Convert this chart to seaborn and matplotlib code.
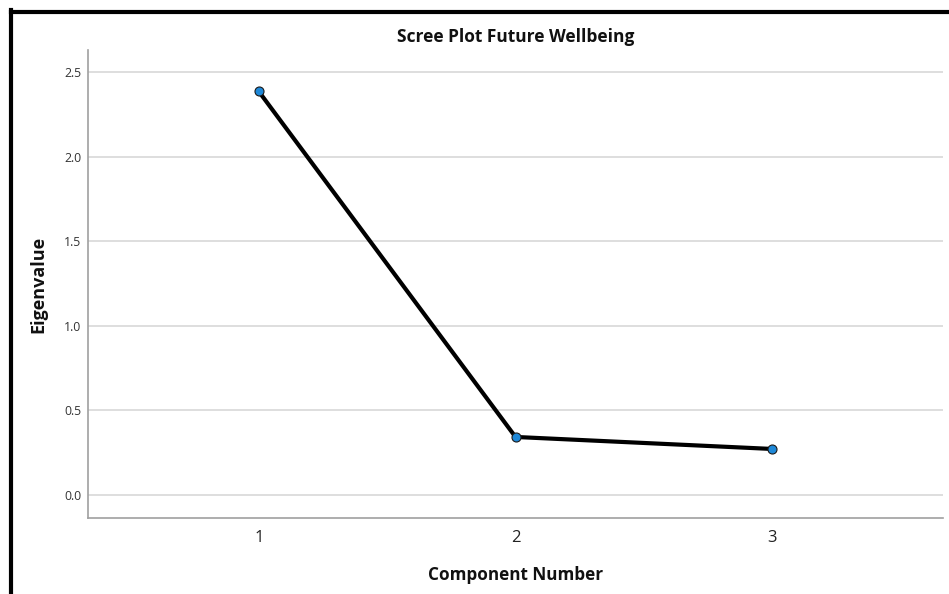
import matplotlib
matplotlib.use("Agg")
import matplotlib.pyplot as plt
import seaborn as sns
import pandas as pd
from matplotlib.lines import Line2D

components = [1, 2, 3]
eigenvalues = [2.385, 0.343, 0.272]
y_ticks = [0.0, 0.5, 1.0, 1.5, 2.0, 2.5]
y_tick_labels = ["0.0", "0.5", "1.0", "1.5", "2.0", "2.5"]

df = pd.DataFrame({"Component Number": components, "Eigenvalue": eigenvalues})

sns.set_style("white")
plt.rcParams['font.family'] = ['Open Sans', 'DejaVu Sans']

fig = plt.figure(figsize=(9.49, 5.94), dpi=100)
ax = fig.add_axes([88/949, 76/594, (943-88)/949, (518-50)/594])

sns.lineplot(data=df, x="Component Number", y="Eigenvalue", ax=ax,
             color="black", linewidth=3.0, marker="o", markersize=6.5,
             markerfacecolor="#1e88d8", markeredgecolor="#1a1a1a",
             markeredgewidth=0.8, zorder=3)

ax.set_xlim(1 - 171/257, 3 + 171/257)
ax.set_ylim(-0.136, 2.63)
ax.set_xticks(components)
ax.set_xticklabels([str(c) for c in components], fontsize=12, color="#222222")
ax.set_yticks(y_ticks)
ax.set_yticklabels(y_tick_labels, fontsize=8.8, color="#333333")
ax.tick_params(axis="x", length=0, pad=9)
ax.tick_params(axis="y", length=0, pad=5)

ax.yaxis.grid(True, color="#d8d8d8", linewidth=1.2)
ax.xaxis.grid(False)
ax.set_axisbelow(True)
for s in ["top", "right"]:
    ax.spines[s].set_visible(False)
for s in ["left", "bottom"]:
    ax.spines[s].set_color("#a0a0a0")
    ax.spines[s].set_linewidth(1.2)

ax.set_title("Scree Plot Future Wellbeing", fontsize=12.5, fontweight="bold",
             color="#111111", pad=5.5)
ax.set_xlabel("Component Number", fontsize=12.3, fontweight="bold",
              color="#111111", labelpad=14)
ax.set_ylabel("Eigenvalue", fontsize=13, fontweight="bold",
              color="#111111", labelpad=12)

# outer black frame lines (left and top)
fig.add_artist(Line2D([10.5/949, 10.5/949], [0, 1 - 9.5/594],
                      transform=fig.transFigure, color="black", linewidth=3.0,
                      solid_capstyle="projecting"))
fig.add_artist(Line2D([10.5/949, 1.0], [1 - 11.5/594, 1 - 11.5/594],
                      transform=fig.transFigure, color="black", linewidth=3.0,
                      solid_capstyle="projecting"))

fig.savefig("out.png", dpi=100)
